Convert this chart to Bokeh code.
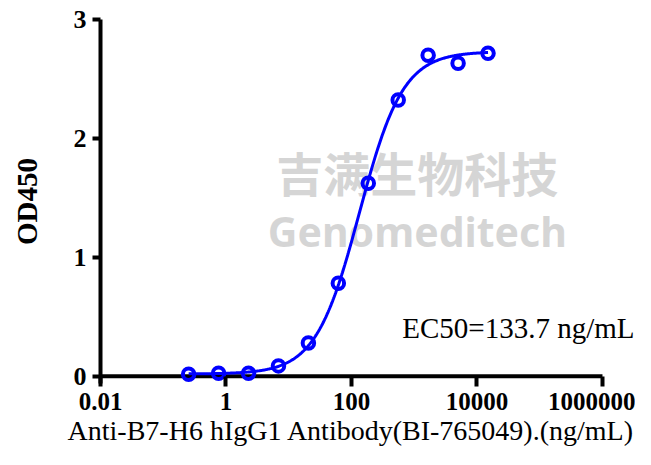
import numpy as np
from bokeh.plotting import figure
from bokeh.models import Range1d, FixedTicker, Label, Title
from bokeh.embed import file_html
from bokeh.resources import INLINE

# ---- data (3-fold dilution series) ----
conc_ng_ml = [15000, 5000, 1666.7, 555.6, 185.2, 61.73, 20.58, 6.859, 2.286, 0.762, 0.254]
od450 = [2.716, 2.632, 2.700, 2.324, 1.624, 0.783, 0.280, 0.088, 0.027, 0.027, 0.018]

# 4-parameter logistic fit shown as the curve
fit_bottom = 0.02
fit_top = 2.73
fit_ec50 = 133.7
fit_hill = 1.25

x_ticks = [0.01, 1, 100, 10000, 1000000]
x_tick_labels = ["0.01", "1", "100", "10000", "1000000"]
y_ticks = [0, 1, 2, 3]

ec50_text = "EC50=133.7 ng/mL"
x_title = "Anti-B7-H6 hIgG1 Antibody(BI-765049).(ng/mL)"
y_title = "OD450"
wm_cn = "吉满生物科技"
wm_en = "Genomeditech"

# ---- fitted curve ----
xs = np.logspace(np.log10(min(conc_ng_ml)), np.log10(max(conc_ng_ml)), 400)
ys = fit_bottom + (fit_top - fit_bottom) / (1.0 + (fit_ec50 / xs) ** fit_hill)

BLUE = "#0000FF"
SERIF = "Liberation Serif"

p = figure(width=635, height=449, x_axis_type="log",
           x_range=Range1d(0.01, 3.36e6), y_range=Range1d(-0.06, 3),
           output_backend="svg", toolbar_location=None,
           min_border_left=100, min_border_right=0,
           min_border_top=19, min_border_bottom=66)
p.outline_line_color = None
p.xgrid.grid_line_color = None
p.ygrid.grid_line_color = None
p.background_fill_color = "white"
p.border_fill_color = "white"

# watermark (under the data)
p.add_layout(Label(x=1.12e3, y=1.72, text=wm_cn, text_align="center",
                   text_baseline="alphabetic", text_font="Noto Sans CJK SC",
                   text_font_style="bold", text_font_size="47px",
                   text_color="#c8c8c8", text_alpha=0.75, level="underlay"))
p.add_layout(Label(x=1.12e3, y=1.22, text=wm_en, text_align="center",
                   text_baseline="alphabetic", text_font="Noto Sans",
                   text_font_style="bold", text_font_size="41px",
                   text_color="#c8c8c8", text_alpha=0.75, level="underlay"))

# x axis line at y = 0
p.segment(x0=[x_ticks[0]], y0=[0], x1=[x_ticks[-1]], y1=[0],
          line_color="black", line_width=4)

# curve and points
p.line(xs, ys, line_color=BLUE, line_width=3)
p.scatter(conc_ng_ml, od450, marker="circle", size=11.5,
          line_color=BLUE, line_width=4, fill_color=None)

# axes
xa = p.xaxis[0]
xa.ticker = FixedTicker(ticks=x_ticks)
xa.major_label_overrides = dict(zip(x_ticks, x_tick_labels))
xa.axis_line_color = None
xa.major_tick_in = 7
xa.major_tick_out = 3
xa.major_tick_line_width = 4
xa.minor_tick_line_color = None
xa.major_label_standoff = 6
xa.major_label_text_font = SERIF
xa.major_label_text_font_style = "bold"
xa.major_label_text_font_size = "25px"
xa.major_label_text_color = "black"

# x-axis title, centred under the 0.01..1e6 span
p.add_layout(Title(text=x_title, align="right", offset=1, standoff=0,
                   text_font=SERIF, text_font_style="normal",
                   text_font_size="28px", text_color="black"), "below")

ya = p.yaxis[0]
ya.ticker = FixedTicker(ticks=y_ticks)
ya.axis_line_width = 4
ya.axis_line_color = "black"
ya.major_tick_in = 0
ya.major_tick_out = 8
ya.major_tick_line_width = 4
ya.minor_tick_line_color = None
ya.major_label_standoff = 6
ya.major_label_text_font = SERIF
ya.major_label_text_font_style = "bold"
ya.major_label_text_font_size = "26px"
ya.major_label_text_color = "black"
ya.axis_label = y_title
ya.axis_label_text_font = SERIF
ya.axis_label_text_font_style = "bold"
ya.axis_label_text_font_size = "29px"
ya.axis_label_text_color = "black"
ya.axis_label_standoff = 28

# EC50 annotation
p.add_layout(Label(x=3.24e6, y=0.41, text=ec50_text, text_align="right",
                   text_baseline="alphabetic", text_font=SERIF,
                   text_font_size="29px", text_color="black"))

open("out.html", "w").write(file_html(p, INLINE))
